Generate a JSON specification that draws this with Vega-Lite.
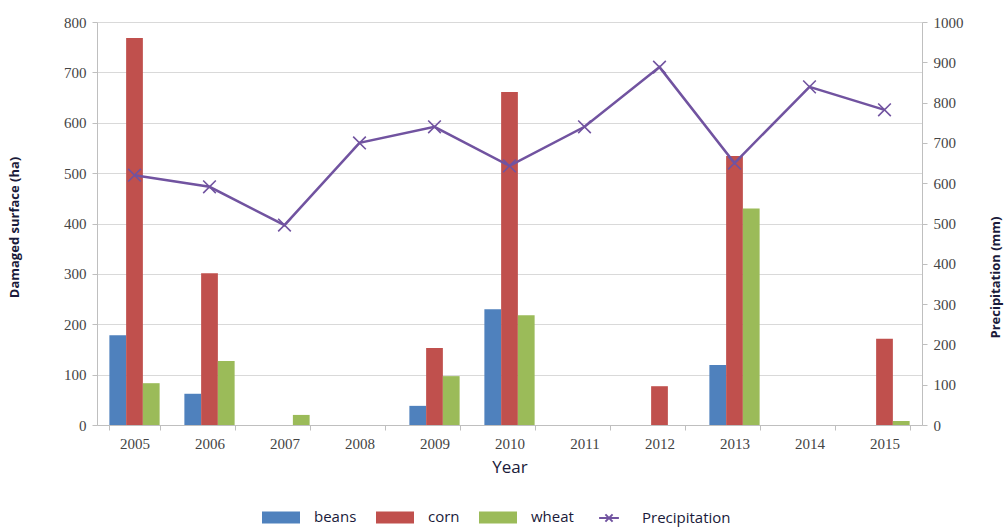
{
  "$schema": "https://vega.github.io/schema/vega-lite/v6.json",
  "width": 825,
  "height": 403,
  "autosize": {"type": "none"},
  "padding": {"left": 97, "top": 22, "right": 83, "bottom": 103},
  "background": "white",
  "config": {
    "view": {"stroke": null},
    "font": "Liberation Sans"
  },
  "datasets": {
    "damage": [
      {"year": "2005", "crop": "beans", "value": 178},
      {"year": "2005", "crop": "corn", "value": 768},
      {"year": "2005", "crop": "wheat", "value": 83},
      {"year": "2006", "crop": "beans", "value": 62},
      {"year": "2006", "crop": "corn", "value": 301},
      {"year": "2006", "crop": "wheat", "value": 127},
      {"year": "2007", "crop": "beans", "value": 0},
      {"year": "2007", "crop": "corn", "value": 0},
      {"year": "2007", "crop": "wheat", "value": 20},
      {"year": "2008", "crop": "beans", "value": 0},
      {"year": "2008", "crop": "corn", "value": 0},
      {"year": "2008", "crop": "wheat", "value": 0},
      {"year": "2009", "crop": "beans", "value": 38},
      {"year": "2009", "crop": "corn", "value": 153},
      {"year": "2009", "crop": "wheat", "value": 97},
      {"year": "2010", "crop": "beans", "value": 230},
      {"year": "2010", "crop": "corn", "value": 661},
      {"year": "2010", "crop": "wheat", "value": 218},
      {"year": "2011", "crop": "beans", "value": 0},
      {"year": "2011", "crop": "corn", "value": 0},
      {"year": "2011", "crop": "wheat", "value": 0},
      {"year": "2012", "crop": "beans", "value": 0},
      {"year": "2012", "crop": "corn", "value": 77},
      {"year": "2012", "crop": "wheat", "value": 0},
      {"year": "2013", "crop": "beans", "value": 119},
      {"year": "2013", "crop": "corn", "value": 534},
      {"year": "2013", "crop": "wheat", "value": 430},
      {"year": "2014", "crop": "beans", "value": 0},
      {"year": "2014", "crop": "corn", "value": 0},
      {"year": "2014", "crop": "wheat", "value": 0},
      {"year": "2015", "crop": "beans", "value": 0},
      {"year": "2015", "crop": "corn", "value": 171},
      {"year": "2015", "crop": "wheat", "value": 8}
    ],
    "rain": [
      {"year": "2005", "precip": 620},
      {"year": "2006", "precip": 591},
      {"year": "2007", "precip": 496},
      {"year": "2008", "precip": 700},
      {"year": "2009", "precip": 740},
      {"year": "2010", "precip": 643},
      {"year": "2011", "precip": 740},
      {"year": "2012", "precip": 888},
      {"year": "2013", "precip": 650},
      {"year": "2014", "precip": 839},
      {"year": "2015", "precip": 782}
    ]
  },
  "encoding": {
    "x": {
      "field": "year",
      "type": "nominal",
      "scale": {"paddingInner": 0.33, "paddingOuter": 0.165},
      "axis": {
        "title": "Year",
        "labelAngle": 0,
        "labelFont": "Liberation Serif",
        "labelFontSize": 15,
        "labelColor": "#444444",
        "labelPadding": 6,
        "titleFont": "Open Sans",
        "titleFontSize": 17,
        "titleFontWeight": "normal",
        "titleColor": "#1a1a3a",
        "titlePadding": 8,
        "tickBand": "extent",
        "domainColor": "#BFBFBF",
        "tickColor": "#BFBFBF",
        "tickSize": 5,
        "grid": false
      }
    }
  },
  "layer": [
    {
      "data": {"name": "damage"},
      "mark": {"type": "bar"},
      "encoding": {
        "xOffset": {"field": "crop", "type": "nominal", "sort": ["beans", "corn", "wheat"]},
        "y": {
          "field": "value",
          "type": "quantitative",
          "scale": {"domain": [0, 800], "nice": false},
          "axis": {
            "title": "Damaged surface (ha)",
            "titleFont": "Open Sans",
            "titleFontSize": 13,
            "titleFontWeight": "bold",
            "titleColor": "#1a1a3a",
            "titleX": -76,
            "titleY": 205,
            "titleAngle": 270,
            "values": [0, 100, 200, 300, 400, 500, 600, 700, 800],
            "labelFont": "Liberation Serif",
            "labelFontSize": 15,
            "labelColor": "#444444",
            "labelPadding": 6,
            "tickColor": "#BFBFBF",
            "tickSize": 5,
            "domainColor": "#BFBFBF",
            "grid": true,
            "gridColor": "#D9D9D9",
            "gridWidth": 1.2
          }
        },
        "color": {
          "field": "crop",
          "type": "nominal",
          "scale": {
            "domain": ["beans", "corn", "wheat", "Precipitation"],
            "range": ["#4F81BD", "#C0504D", "#9BBB59", "#7153A0"]
          },
          "legend": {
            "title": null,
            "orient": "none",
            "direction": "horizontal",
            "legendX": 165,
            "legendY": 476,
            "labelFont": "Open Sans",
            "labelFontSize": 15,
            "labelColor": "#1a1a3a",
            "symbolSize": 1296,
            "labelOffset": 14,
            "columnPadding": 16,
            "symbolStrokeWidth": 2,
            "encode": {
              "symbols": {
                "update": {
                  "shape": {"signal": "datum.value === 'Precipitation' ? 'M-0.55,0H0.55M-0.2,-0.2L0.2,0.2M-0.2,0.2L0.2,-0.2' : 'M-1,-0.28H1V0.28H-1Z'"},
                  "fill": {"signal": "datum.value === 'Precipitation' ? 'transparent' : scale('color', datum.value)"},
                  "stroke": {"signal": "datum.value === 'Precipitation' ? scale('color', datum.value) : 'transparent'"},
                  "strokeWidth": {"value": 2}
                }
              }
            }
          }
        }
      }
    },
    {
      "data": {"name": "rain"},
      "layer": [
        {
          "mark": {"type": "line", "strokeWidth": 2.5},
          "encoding": {
            "y": {
              "field": "precip",
              "type": "quantitative",
              "scale": {"domain": [0, 1000], "nice": false},
              "axis": {
                "orient": "right",
                "title": "Precipitation (mm)",
                "format": "d",
                "titleFont": "Open Sans",
                "titleFontSize": 13,
                "titleFontWeight": "bold",
                "titleColor": "#1a1a3a",
                "titleAngle": 270,
                "titleX": 80,
                "titleY": 255,
                "values": [0, 100, 200, 300, 400, 500, 600, 700, 800, 900, 1000],
                "labelFont": "Liberation Serif",
                "labelFontSize": 15,
                "labelColor": "#444444",
                "labelPadding": 6,
                "tickColor": "#BFBFBF",
                "tickSize": 5,
                "domainColor": "#BFBFBF",
                "grid": false
              }
            },
            "color": {"datum": "Precipitation"}
          }
        },
        {
          "mark": {"type": "point", "shape": "M-1,-1L1,1M-1,1L1,-1", "filled": false, "size": 160, "strokeWidth": 1.6, "opacity": 1},
          "encoding": {
            "y": {"field": "precip", "type": "quantitative"},
            "color": {"datum": "Precipitation"}
          }
        }
      ]
    }
  ],
  "resolve": {"scale": {"y": "independent"}}
}
